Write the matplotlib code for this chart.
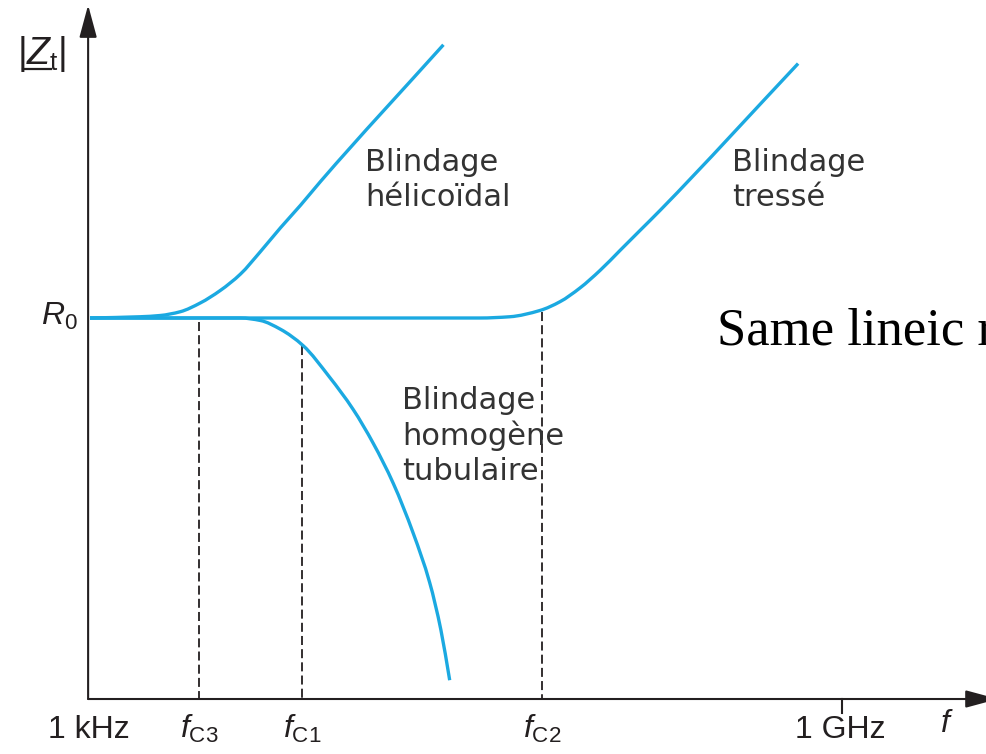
import numpy as np
import matplotlib
matplotlib.use("Agg")
import matplotlib.pyplot as plt
from matplotlib.path import Path
from matplotlib.patches import PathPatch

# mathtext in an Arial-like face for the axis labels
plt.rcParams['mathtext.fontset'] = 'custom'
plt.rcParams['mathtext.rm'] = 'Liberation Sans'
plt.rcParams['mathtext.it'] = 'Liberation Sans:italic'
plt.rcParams['mathtext.bf'] = 'Liberation Sans:bold'

# x = log10(f / Hz), y = log10(|Zt| / R0)
helical_logf = [3.00, 3.40, 3.56, 3.72, 3.88, 4.04, 4.20, 4.36, 4.52, 4.68, 4.84, 5.82]
helical_logz = [0.00, 0.01, 0.02, 0.05, 0.12, 0.22, 0.35, 0.53, 0.72, 0.90, 1.09, 2.18]

braided_logf = [3.00, 6.11, 6.35, 6.59, 6.75, 6.91, 7.07, 7.23, 7.39, 7.55, 8.65]
braided_logz = [0.00, 0.00, 0.01, 0.06, 0.13, 0.24, 0.38, 0.54, 0.70, 0.86, 2.03]

tubular_logf = [3.00, 4.20, 4.36, 4.52, 4.70, 4.91, 5.10, 5.26, 5.42, 5.58, 5.71, 5.80, 5.87]
tubular_logz = [0.00, 0.00, -0.02, -0.09, -0.22, -0.47, -0.73, -1.00, -1.32, -1.72, -2.11, -2.49, -2.89]

# cut-off frequencies and where their dashed guides start
cutoff_names = [r'$f_{\mathrm{C3}}$', r'$f_{\mathrm{C1}}$', r'$f_{\mathrm{C2}}$']
cutoff_logf = [3.87, 4.69, 6.61]
cutoff_top = [-0.03, -0.22, 0.05]

tick_logf = [3, 9]
tick_labels = ['1 kHz', '1 GHz']

blue = '#1ba9e1'
ink = '#231f20'
y_axis_pos = -3.04
x_axis_pos = 2.985


def smooth_path(xs, ys):
    # monotone cubic (Fritsch-Butland tangents) through the read points, as Bezier pieces
    x = np.asarray(xs, float)
    y = np.asarray(ys, float)
    h = np.diff(x)
    d = np.diff(y) / h
    m = np.zeros_like(x)
    m[0], m[-1] = d[0], d[-1]
    for k in range(1, len(x) - 1):
        if d[k - 1] * d[k] > 0:
            w1 = 2 * h[k] + h[k - 1]
            w2 = h[k] + 2 * h[k - 1]
            m[k] = (w1 + w2) / (w1 / d[k - 1] + w2 / d[k])
    verts = [(x[0], y[0])]
    codes = [Path.MOVETO]
    for k in range(len(x) - 1):
        verts += [(x[k] + h[k] / 3, y[k] + m[k] * h[k] / 3),
                  (x[k + 1] - h[k] / 3, y[k + 1] - m[k + 1] * h[k] / 3),
                  (x[k + 1], y[k + 1])]
        codes += [Path.CURVE4] * 3
    return Path(verts, codes)


fig = plt.figure(figsize=(9.86, 7.54), dpi=100)
ax = fig.add_axes([0, 0, 1, 1])
ax.set_xlim(2.2819, 10.1492)
ax.set_ylim(-3.4788, 2.5373)
ax.axis('off')

# curves
for xs, ys in [(helical_logf, helical_logz), (braided_logf, braided_logz), (tubular_logf, tubular_logz)]:
    ax.add_patch(PathPatch(smooth_path(xs, ys), facecolor='none', edgecolor=blue, lw=2.4,
                           capstyle='butt', joinstyle='round', zorder=3))

# dashed guides
for xc, yt in zip(cutoff_logf, cutoff_top):
    ax.plot([xc, xc], [yt, y_axis_pos], color=ink, lw=1.3, dashes=(5, 2.3), zorder=2)

# axes with arrows
arrow = dict(arrowstyle='-|>,head_length=1.0,head_width=0.27', color=ink, lw=1.5,
             shrinkA=0, shrinkB=0, mutation_scale=20)
ax.annotate('', xy=(10.245, y_axis_pos), xytext=(x_axis_pos, y_axis_pos), arrowprops=arrow,
            annotation_clip=False)
ax.annotate('', xy=(x_axis_pos, 2.497), xytext=(x_axis_pos, y_axis_pos), arrowprops=arrow,
            annotation_clip=False)

# 1 GHz tick
ax.plot([9, 9], [y_axis_pos, -3.152], color=ink, lw=1.5)

# bottom labels
for xv, lab in zip(tick_logf, tick_labels):
    ax.text(xv - 0.01, -3.351, lab, ha='center', va='baseline', fontsize=23,
            family='Liberation Sans', color=ink)
for xv, lab in zip(cutoff_logf, cutoff_names):
    ax.text(xv, -3.351, lab, ha='center', va='baseline', fontsize=23, color=ink)
ax.text(9.838, -3.30, r'$f$', ha='center', va='baseline', fontsize=23, color=ink)

# y labels
ax.text(2.904, -0.056, r'$R_{0}$', ha='right', va='baseline', fontsize=23, color=ink)
ax.text(2.617, 2.106, r'$|Z_{\mathrm{t}}|$', ha='center', va='center', fontsize=27, color=ink)
ax.plot([2.468, 2.69], [1.99, 1.99], color=ink, lw=1.6)

# curve names (baseline = last line)
lab_style = dict(ha='left', va='baseline', fontsize=22, family='DejaVu Sans',
                 color='#333333', linespacing=1.25)
ax.text(5.195, 0.894, 'Blindage\nhélicoïdal', **lab_style)
ax.text(8.122, 0.894, 'Blindage\ntressé', **lab_style)
ax.text(5.49, -1.293, 'Blindage\nhomogène\ntubulaire', **lab_style)

# overlay note, cut by the right edge as in the original
ax.text(8.003, -0.215, 'Same lineic resistance', ha='left', va='baseline', fontsize=38,
        family='Liberation Serif', color='black')

fig.savefig('out.png', dpi=100)
